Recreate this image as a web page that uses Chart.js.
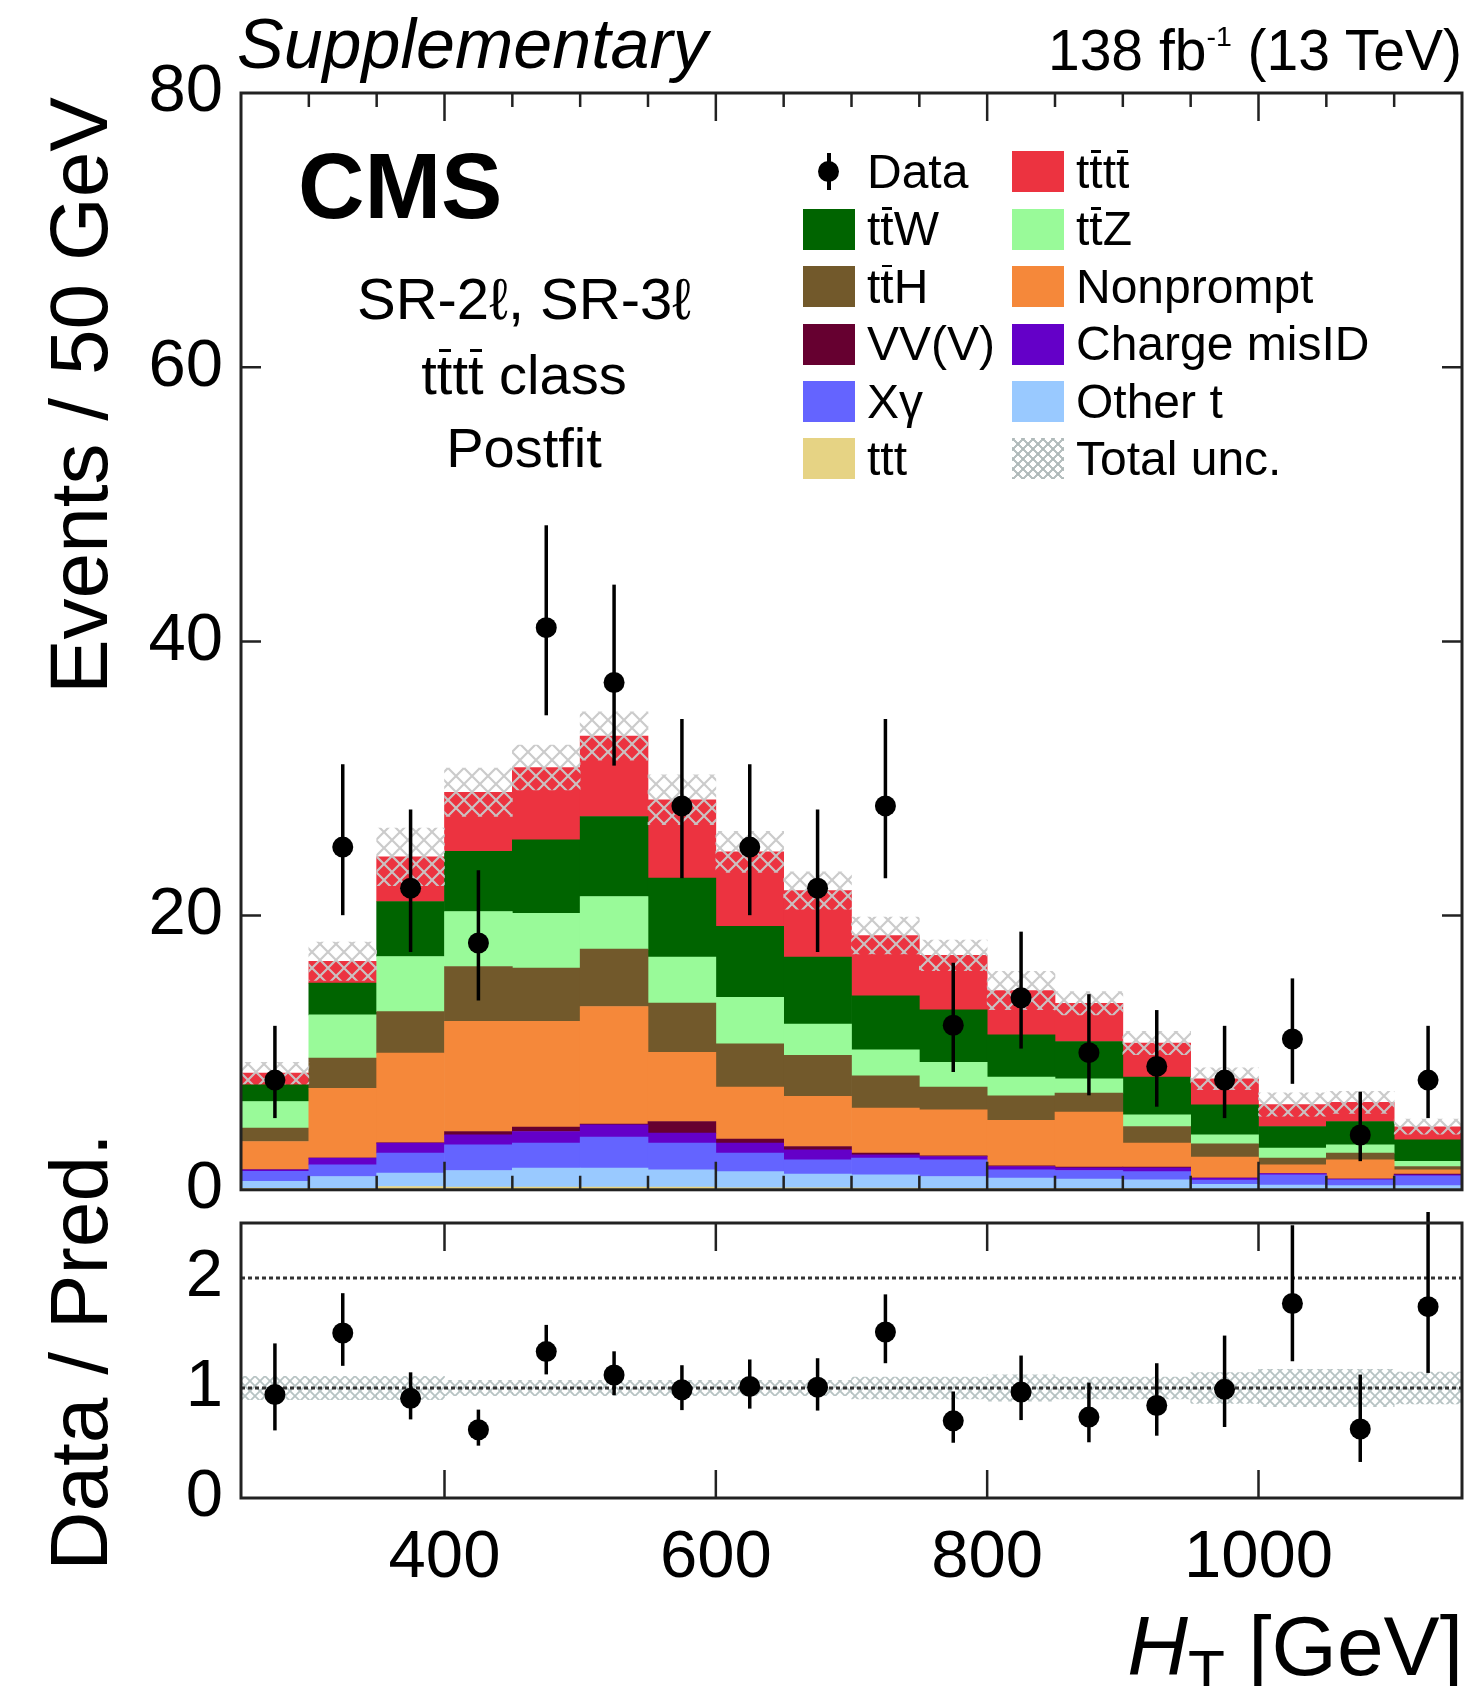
<!DOCTYPE html>
<html>
<head>
<meta charset="utf-8">
<script src="https://cdn.jsdelivr.net/npm/chart.js@4.4.1/dist/chart.umd.min.js"></script>
<style>
    html, body { margin: 0; padding: 0; background: #fff; }
    body {
        width: 1481px; height: 1686px; position: relative; overflow: hidden;
        font-family: "Liberation Sans", Arial, Helvetica, sans-serif; color: #000;
    }
    canvas { position: absolute; left: 0; }
    #mainChart { top: 0; }
    #ratioChart { top: 1171px; }
    .txt { position: absolute; line-height: 1; white-space: nowrap; }
    .rot { transform-origin: 0 0; transform: rotate(-90deg); width: 600px; font-size: 82px; left: 38px; }
    .tb { display: inline-block; position: relative; line-height: 1; }
    .tb::after {
        content: ""; position: absolute; left: 0.03em; right: 0.03em;
        top: 0.04em; height: 0.055em; background: currentColor;
    }
    .leg {
        position: absolute; height: 57.4px; display: flex; align-items: center;
        font-size: 48px; line-height: 1; white-space: nowrap;
    }
    .box { width: 52px; height: 41px; margin-right: 12px; position: relative; flex: none; }
    .hatch {
        background:
            repeating-linear-gradient(45deg, rgba(175,185,185,0.9) 0 2px, transparent 2px 7px),
            repeating-linear-gradient(-45deg, rgba(175,185,185,0.9) 0 2px, transparent 2px 7px);
    }
    .dataLine { position: absolute; left: 24px; width: 3.5px; top: 2px; height: 37px; background: #000; }
    .dataDot { position: absolute; left: 15px; top: 10px; width: 21px; height: 21px; border-radius: 50%; background: #000; }
</style>
</head>
<body>
<canvas id="mainChart" width="1481" height="1240"></canvas>
<canvas id="ratioChart" width="1481" height="515"></canvas>

<div class="txt" style="left:237px; top:9px; font-size:70px; font-style:italic;">Supplementary</div>
<div class="txt" style="right:19px; top:22px; font-size:57px;">138 fb<span style="font-size:0.5em; vertical-align:0.85em; line-height:0;">-1</span> (13 TeV)</div>
<div class="txt" style="left:298px; top:140px; font-size:92px; font-weight:bold;">CMS</div>
<div class="txt" style="left:324px; width:400px; text-align:center; top:270px; font-size:58px;">SR-2ℓ, SR-3ℓ</div>
<div class="txt" style="left:324px; width:400px; text-align:center; top:347px; font-size:56px;">t<span class="tb">t</span>t<span class="tb">t</span> class</div>
<div class="txt" style="left:324px; width:400px; text-align:center; top:420px; font-size:56px;">Postfit</div>

<div class="txt rot" style="top:697px; text-align:right;">Events / 50 GeV</div>
<div class="txt rot" style="top:1652px; text-align:center;">Data / Pred.</div>
<div class="txt" style="right:18px; top:1604px; font-size:84px;"><i>H</i><span style="font-size:0.72em; vertical-align:-0.3em; line-height:0;">T</span> [GeV]</div>

<div id="legend"></div>

<script>
// Bin centres of H_T [GeV], 50 GeV bins from 250 to 1150
const htCenters = [275, 325, 375, 425, 475, 525, 575, 625, 675, 725, 775, 825, 875, 925, 975, 1025, 1075, 1125];
const htRange = [250, 1150];

// Observed data with Poisson error bars
const dataCounts  = [8, 25, 22, 18, 41, 37, 28, 25, 22, 28, 12, 14, 10, 9, 8, 11, 4, 8];
const dataErrUp   = [3.96, 6.04, 5.74, 5.30, 7.47, 7.14, 6.34, 6.04, 5.74, 6.34, 4.56, 4.83, 4.27, 4.11, 3.96, 4.42, 3.16, 3.96];
const dataErrDown = [2.77, 4.97, 4.65, 4.20, 6.39, 6.06, 5.27, 4.97, 4.65, 5.27, 3.41, 3.70, 3.11, 2.94, 2.77, 3.27, 1.91, 2.77];

// Postfit predictions, bottom of the stack first
const ttt         = [0.10, 0.10, 0.24, 0.20, 0.20, 0.20, 0.20, 0.15, 0.15, 0.12, 0.10, 0.10, 0.10, 0.08, 0.05, 0.05, 0.05, 0.05];
const otherT      = [0.51, 0.87, 0.98, 1.21, 1.38, 1.38, 1.26, 1.18, 0.99, 0.97, 0.87, 0.75, 0.68, 0.65, 0.35, 0.30, 0.25, 0.25];
const xGamma      = [0.73, 0.85, 1.45, 1.87, 1.82, 2.26, 1.94, 1.34, 1.05, 1.22, 1.22, 0.61, 0.63, 0.60, 0.30, 0.74, 0.43, 0.72];
const chargeMisID = [0.12, 0.49, 0.73, 0.73, 0.85, 0.90, 0.73, 0.73, 0.73, 0.24, 0.24, 0.24, 0.20, 0.27, 0.15, 0.10, 0.05, 0.08];
const vvv         = [0.00, 0.00, 0.02, 0.24, 0.32, 0.05, 0.85, 0.30, 0.24, 0.12, 0.05, 0.05, 0.04, 0.05, 0.00, 0.00, 0.00, 0.04];
const nonprompt   = [2.06, 5.10, 6.55, 8.03, 7.71, 8.58, 5.04, 3.79, 3.65, 3.29, 3.36, 3.31, 4.02, 1.75, 1.53, 0.63, 1.41, 0.32];
const ttH         = [0.98, 2.19, 3.03, 4.01, 3.89, 4.18, 3.60, 3.16, 2.99, 2.36, 1.65, 1.80, 1.38, 1.22, 0.98, 0.49, 0.49, 0.24];
const ttZ         = [1.94, 3.16, 4.02, 4.01, 4.00, 3.84, 3.35, 3.38, 2.29, 1.89, 1.80, 1.36, 1.05, 0.85, 0.65, 0.73, 0.60, 0.37];
const ttW         = [1.22, 2.31, 4.01, 4.38, 5.36, 5.84, 5.76, 5.18, 4.88, 3.94, 3.84, 3.09, 2.72, 2.75, 2.19, 1.58, 1.70, 1.58];
const tttt        = [0.85, 1.60, 3.25, 4.32, 5.27, 5.87, 5.72, 5.44, 4.86, 4.40, 3.97, 3.23, 2.78, 2.48, 1.90, 1.60, 1.40, 0.95];

// Total uncertainty (absolute in the upper panel, relative in the ratio panel)
const totalUnc = [0.79, 1.40, 2.10, 1.76, 1.64, 1.76, 1.82, 1.50, 1.37, 1.34, 1.12, 1.40, 0.85, 0.85, 0.79, 0.85, 0.80, 0.55];
const ratioUnc = [0.107, 0.107, 0.107, 0.069, 0.069, 0.069, 0.069, 0.069, 0.069, 0.10, 0.10, 0.12, 0.10, 0.10, 0.14, 0.17, 0.17, 0.144];

// Tick labels
const yMainLabels = [0, 20, 40, 60, 80];
const yRatioLabels = [0, 1, 2];
const xLabels = [400, 600, 800, 1000];
const ratioLines = [1, 2];

const processes = [
    { label: 'ttt', html: 'ttt', values: ttt, color: '#e6d384' },
    { label: 'Other t', html: 'Other t', values: otherT, color: '#99c9ff' },
    { label: 'Xγ', html: 'Xγ', values: xGamma, color: '#6464ff' },
    { label: 'Charge misID', html: 'Charge misID', values: chargeMisID, color: '#6400c8' },
    { label: 'VV(V)', html: 'VV(V)', values: vvv, color: '#660030' },
    { label: 'Nonprompt', html: 'Nonprompt', values: nonprompt, color: '#f5883a' },
    { label: 'ttH', html: 't<span class="tb">t</span>H', values: ttH, color: '#72592b' },
    { label: 'ttZ', html: 't<span class="tb">t</span>Z', values: ttZ, color: '#99fa99' },
    { label: 'ttW', html: 't<span class="tb">t</span>W', values: ttW, color: '#006400' },
    { label: 'tttt', html: 't<span class="tb">t</span>t<span class="tb">t</span>', values: tttt, color: '#ec3340' }
];

const totalPred = htCenters.map((_, i) => processes.reduce((s, p) => s + p.values[i], 0));

Chart.defaults.font.family = '"Liberation Sans", Arial, Helvetica, sans-serif';
Chart.defaults.color = '#000';

// Hatch pattern for the uncertainty bands
function makeHatch(size, color, width) {
    const c = document.createElement('canvas');
    c.width = size;
    c.height = size;
    const g = c.getContext('2d');
    g.strokeStyle = color;
    g.lineWidth = width;
    g.beginPath();
    g.moveTo(-1, -1); g.lineTo(size + 1, size + 1);
    g.moveTo(size + 1, -1); g.lineTo(-1, size + 1);
    g.stroke();
    return g.createPattern(c, 'repeat');
}

// Vertical error bars on the data points
const errorBars = {
    id: 'errorBars',
    afterDatasetsDraw(chart) {
        const { ctx, scales: { x, y } } = chart;
        chart.data.datasets.forEach(ds => {
            if (!ds.errUp) return;
            ctx.save();
            ctx.strokeStyle = '#000';
            ctx.lineWidth = 3.5;
            ds.data.forEach((pt, i) => {
                const px = x.getPixelForValue(pt.x);
                ctx.beginPath();
                ctx.moveTo(px, y.getPixelForValue(pt.y + ds.errUp[i]));
                ctx.lineTo(px, y.getPixelForValue(pt.y - ds.errDown[i]));
                ctx.stroke();
            });
            ctx.restore();
        });
    }
};

// Frame with inward ticks on all four sides
const frameTicks = {
    id: 'frameTicks',
    afterDatasetsDraw(chart, args, opts) {
        const { ctx, chartArea: a, scales: { x, y } } = chart;
        ctx.save();
        ctx.strokeStyle = '#222';
        ctx.lineWidth = 2.5;
        ctx.beginPath();
        x.ticks.forEach(t => {
            const px = x.getPixelForValue(t.value);
            if (px <= a.left + 1 || px >= a.right - 1) return;
            const len = xLabels.includes(t.value) ? opts.xMajor : opts.xMinor;
            ctx.moveTo(px, a.bottom); ctx.lineTo(px, a.bottom - len);
            ctx.moveTo(px, a.top); ctx.lineTo(px, a.top + len);
        });
        if (opts.yMajor) {
            y.ticks.forEach(t => {
                const py = y.getPixelForValue(t.value);
                if (py <= a.top + 1 || py >= a.bottom - 1) return;
                const len = opts.yLabels.includes(t.value) ? opts.yMajor : opts.yMinor;
                ctx.moveTo(a.left, py); ctx.lineTo(a.left + len, py);
                ctx.moveTo(a.right, py); ctx.lineTo(a.right - len, py);
            });
        }
        ctx.stroke();
        ctx.lineWidth = 3;
        ctx.strokeRect(a.left, a.top, a.right - a.left, a.bottom - a.top);
        ctx.restore();
    }
};

const tickFont = { size: 67 };

// Upper panel: stacked predictions, uncertainty and data
new Chart(document.getElementById('mainChart'), {
    type: 'bar',
    data: {
        datasets: [
            {
                type: 'line',
                label: 'Data',
                data: htCenters.map((x, i) => ({ x, y: dataCounts[i] })),
                errUp: dataErrUp,
                errDown: dataErrDown,
                showLine: false,
                pointRadius: 10.5,
                pointBackgroundColor: '#000',
                pointBorderWidth: 0,
                order: 0
            },
            {
                label: 'Total unc.',
                data: htCenters.map((x, i) => ({ x, y: [totalPred[i] - totalUnc[i], totalPred[i] + totalUnc[i]] })),
                backgroundColor: makeHatch(16, 'rgba(200,200,200,0.95)', 2.2),
                stack: 'unc',
                grouped: false,
                barPercentage: 1,
                categoryPercentage: 1,
                order: 1
            },
            ...processes.map(p => ({
                label: p.label,
                data: htCenters.map((x, i) => ({ x, y: p.values[i] })),
                backgroundColor: p.color,
                borderWidth: 0,
                stack: 'bkg',
                barPercentage: 1,
                categoryPercentage: 1,
                order: 2
            }))
        ]
    },
    options: {
        responsive: false,
        animation: false,
        events: [],
        layout: { padding: { top: 93, right: 19, bottom: 50, left: 0 } },
        plugins: {
            legend: { display: false },
            tooltip: { enabled: false },
            frameTicks: { xMajor: 28, xMinor: 14, yMajor: 20, yMinor: 10, yLabels: yMainLabels }
        },
        scales: {
            x: {
                type: 'linear',
                min: htRange[0],
                max: htRange[1],
                offset: false,
                stacked: true,
                ticks: { display: false, stepSize: 50 },
                grid: { display: false, offset: false },
                border: { display: false },
                afterFit(scale) { scale.height = 0; }
            },
            y: {
                min: 0,
                max: 80,
                stacked: true,
                ticks: {
                    stepSize: 5,
                    autoSkip: false,
                    padding: 10,
                    font: tickFont,
                    callback: v => yMainLabels.includes(v) ? v : null
                },
                grid: { display: false },
                border: { display: false },
                afterFit(scale) { scale.width = 241; }
            }
        }
    },
    plugins: [errorBars, frameTicks]
});

// Lower panel: data / prediction
new Chart(document.getElementById('ratioChart'), {
    type: 'bar',
    data: {
        datasets: [
            {
                type: 'line',
                label: 'Data / Pred.',
                data: htCenters.map((x, i) => ({ x, y: dataCounts[i] / totalPred[i] })),
                errUp: dataErrUp.map((e, i) => e / totalPred[i]),
                errDown: dataErrDown.map((e, i) => e / totalPred[i]),
                showLine: false,
                pointRadius: 10.5,
                pointBackgroundColor: '#000',
                pointBorderWidth: 0,
                order: 0
            },
            ...ratioLines.map(r => ({
                type: 'line',
                label: 'ref ' + r,
                data: htRange.map(x => ({ x, y: r })),
                borderColor: '#333',
                borderWidth: 3,
                borderDash: [4, 3],
                pointRadius: 0,
                order: 1
            })),
            {
                label: 'Total unc.',
                data: htCenters.map((x, i) => ({ x, y: [1 - ratioUnc[i], 1 + ratioUnc[i]] })),
                backgroundColor: makeHatch(10, 'rgba(170,185,185,0.85)', 1.8),
                barPercentage: 1,
                categoryPercentage: 1,
                order: 2
            }
        ]
    },
    options: {
        responsive: false,
        animation: false,
        events: [],
        layout: { padding: { top: 52, right: 19, bottom: 0, left: 0 } },
        plugins: {
            legend: { display: false },
            tooltip: { enabled: false },
            frameTicks: { xMajor: 28, xMinor: 15 }
        },
        scales: {
            x: {
                type: 'linear',
                min: htRange[0],
                max: htRange[1],
                offset: false,
                ticks: {
                    stepSize: 50,
                    autoSkip: false,
                    maxRotation: 0,
                    padding: 12,
                    font: tickFont,
                    callback: v => xLabels.includes(v) ? v : null
                },
                grid: { display: false, offset: false },
                border: { display: false },
                afterFit(scale) { scale.height = 188; }
            },
            y: {
                min: 0,
                max: 2.5,
                ticks: {
                    stepSize: 0.5,
                    autoSkip: false,
                    padding: 10,
                    font: tickFont,
                    callback: v => yRatioLabels.includes(v) ? v : null
                },
                grid: { display: false },
                border: { display: false },
                afterFit(scale) { scale.width = 241; }
            }
        }
    },
    plugins: [errorBars, frameTicks]
});

// Legend, two columns
const legendLeft = ['data', 'ttW', 'ttH', 'VV(V)', 'Xγ', 'ttt'];
const legendRight = ['tttt', 'ttZ', 'Nonprompt', 'Charge misID', 'Other t', 'unc'];

function legendItem(key, left, top) {
    let symbol;
    let text;
    if (key === 'data') {
        symbol = '<span class="box"><span class="dataLine"></span><span class="dataDot"></span></span>';
        text = 'Data';
    } else if (key === 'unc') {
        symbol = '<span class="box hatch"></span>';
        text = 'Total unc.';
    } else {
        const p = processes.find(q => q.label === key);
        symbol = `<span class="box" style="background:${p.color}"></span>`;
        text = p.html;
    }
    return `<div class="leg" style="left:${left}px; top:${top}px">${symbol}<span>${text}</span></div>`;
}

const legendEl = document.getElementById('legend');
legendEl.innerHTML = legendLeft.map((k, i) => legendItem(k, 803, 143.3 + 57.4 * i)).join('') +
    legendRight.map((k, i) => legendItem(k, 1012, 143.3 + 57.4 * i)).join('');
</script>
</body>
</html>
